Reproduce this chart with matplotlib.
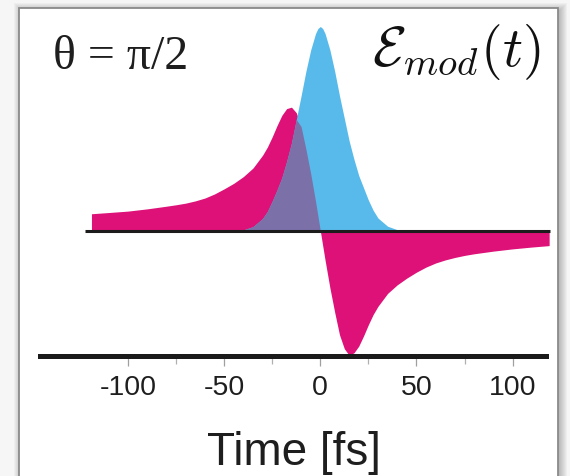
import matplotlib
matplotlib.use("Agg")
import matplotlib.pyplot as plt
import numpy as np
from matplotlib.patches import Rectangle

# time grid (fs) and amplitudes (blue peak = 1)
t_fs = [-119, -110, -100, -90, -80, -75, -70, -65, -60, -55, -50, -45, -40, -35, -30, -27.5,
        -25, -22.5, -20, -17.5, -15, -12.5, -10, -7.5, -5, -2.5, -1.25, 0,
        1.25, 2.5, 5, 7.5, 10, 12.5, 15, 17.5, 20, 22.5, 25, 27.5, 30, 35,
        40, 45, 50, 55, 60, 65, 70, 75, 80, 90, 100, 110, 119]
envelope = [0, 0, 0, 0, 0, 0, 0, 0, 0, 0, 0, 0, 0.004, 0.02, 0.06, 0.095,
            0.145, 0.2, 0.26, 0.34, 0.43, 0.545, 0.66, 0.78, 0.885, 0.965, 0.99, 1.0,
            0.99, 0.965, 0.885, 0.78, 0.66, 0.55, 0.44, 0.35, 0.27, 0.21, 0.15, 0.10, 0.062, 0.022,
            0.005, 0, 0, 0, 0, 0, 0, 0, 0, 0, 0, 0, 0]
e_mod = [0.083, 0.089, 0.096, 0.107, 0.120, 0.127, 0.135, 0.146, 0.160, 0.180, 0.205, 0.232, 0.265, 0.307, 0.37, 0.41,
         0.46, 0.515, 0.565, 0.598, 0.605, 0.578, 0.51, 0.40, 0.28, 0.145, 0.073, 0,
         -0.073, -0.145, -0.28, -0.40, -0.51, -0.578, -0.61, -0.598, -0.565, -0.515, -0.46, -0.41, -0.37, -0.307,
         -0.265, -0.232, -0.203, -0.178, -0.158, -0.143, -0.131, -0.121, -0.113, -0.100, -0.089, -0.080, -0.073]

major_ticks = [-100, -50, 0, 50, 100]
minor_ticks = [-75, -25, 25, 75]

BLUE = "#57baea"
MAGENTA = "#dd1177"
PURPLE = "#7b70a8"

plt.rcParams["mathtext.fontset"] = "cm"

W, H = 570, 476
fig = plt.figure(figsize=(W / 100, H / 100), dpi=100, facecolor="#f6f6f6")


def fx(px):
    return px / W


def fy(py):
    return 1 - py / H


# soft shadow + white frame
for i in range(8):
    fig.patches.append(Rectangle((fx(19 - i + 2), fy(480)), fx(539 + 2 * i), fy(8 - i + 2) - fy(480),
                                 transform=fig.transFigure, facecolor="black",
                                 alpha=0.03, edgecolor="none", zorder=0))
fig.patches.append(Rectangle((fx(19), fy(480)), fx(539), fy(8) - fy(480),
                             transform=fig.transFigure, facecolor="white",
                             edgecolor="#8a8a8a", lw=1.3, zorder=1))

ax = fig.add_axes([0, fy(358), 1, 358 / H])
ax.set_zorder(5)
ax.set_facecolor("none")
ax.set_xlim(-166.56, 129.85)
ax.set_ylim(-0.6234, 1.1298)

t = np.array(t_fs)
env = np.array(envelope)
mod = np.array(e_mod)

ax.fill_between(t, 0, mod, color=MAGENTA, lw=0, zorder=2)
ax.fill_between(t, 0, env, color=BLUE, lw=0, zorder=3)
ax.fill_between(t, 0, np.minimum(env, np.clip(mod, 0, None)), color=PURPLE, lw=0, zorder=4)
ax.hlines(0, -122.4, 119.4, color="#1c1c1c", lw=2.2, zorder=5)

for side in ["top", "left", "right"]:
    ax.spines[side].set_visible(False)
ax.spines["bottom"].set_position(("data", -0.612))
ax.spines["bottom"].set_bounds(-145.8, 117.4)
ax.spines["bottom"].set_linewidth(3.6)
ax.spines["bottom"].set_color("#1a1a1a")
ax.set_yticks([])
ax.set_xticks(major_ticks)
ax.set_xticks(minor_ticks, minor=True)
ax.set_xticklabels([str(v) for v in major_ticks])
ax.tick_params(axis="x", which="major", length=7.2, width=0.9, color="#a0a0a0",
               labelsize=20.5, pad=6.5, labelcolor="#1e1e1e")
ax.tick_params(axis="x", which="minor", length=6, width=0.9, color="#b0b0b0")
for lab in ax.get_xticklabels():
    lab.set_family("Liberation Sans")

fig.text(fx(294), fy(465), "Time [fs]", ha="center", va="baseline",
         fontsize=33, family="Liberation Sans", color="#1e1e1e", zorder=6)
fig.text(fx(53), fy(69), "\u03b8 = \u03c0/2", ha="left", va="baseline",
         fontsize=34.5, family="Liberation Serif", color="#1e1e1e", zorder=6)
fig.text(fx(540), fy(66), r"$\mathcal{E}_{mod}(t)$", ha="right", va="baseline",
         fontsize=40, color="#111111", zorder=6)

fig.savefig("out.png", dpi=100, facecolor=fig.get_facecolor())
